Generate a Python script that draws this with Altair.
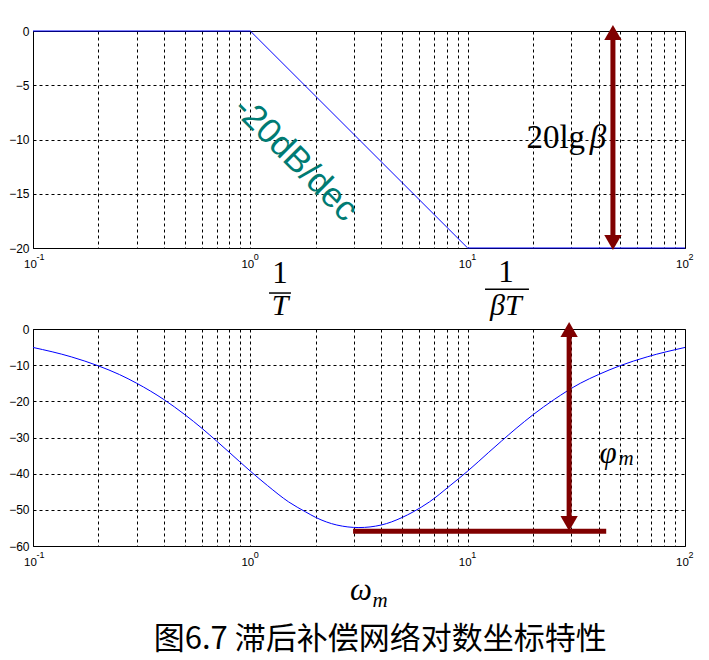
import altair as alt
import pandas as pd

# ---- data ----
freq_mag = [0.1, 1, 10, 100]
mag_db = [0, 0, -20, -20]

freq_phase = [0.1, 0.15, 0.2, 0.25, 0.3, 0.4, 0.5, 0.6, 0.7, 0.8, 1.0, 1.2, 1.5, 1.8, 2.0, 2.5,
              3.16, 4.0, 5.0, 5.6, 6.67, 8.3, 10, 12.5, 14.3, 16.7, 20, 25, 33, 40, 50, 67, 100]
phase_deg = [-5.1, -7.7, -10.2, -12.6, -15.0, -19.5, -23.7, -27.5, -31.0, -34.1, -39.3, -43.3, -47.8,
             -50.6, -52.1, -54.2, -54.9, -54.2, -52.1, -50.6, -47.8, -43.3, -39.3, -34.1, -31.0,
             -27.5, -23.7, -19.5, -15.0, -12.6, -10.2, -7.7, -5.1]

x_grid = [m * 10.0 ** e for e in (-1, 0, 1) for m in range(1, 10)] + [100]
decades = [0.1, 1, 10, 100]
decade_exp = ["-1", "0", "1", "2"]
top_ticks = [0, -5, -10, -15, -20]
bottom_ticks = [0, -10, -20, -30, -40, -50, -60]

DARK_RED = "#800000"
SANS = "Liberation Sans"
SERIF = "Liberation Serif"
W, H = 652, 217

label_expr = "indexof([0.1, 1, 10, 100], datum.value) >= 0 ? '10' : ''"

xscale = alt.Scale(type="log", domain=[0.1, 100], nice=False)
ys_top = alt.Scale(domain=[-20, 0], nice=False)
ys_bot = alt.Scale(domain=[-60, 0], nice=False)


def x_axis():
    return alt.Axis(values=x_grid, labelExpr=label_expr, grid=True, gridDash=[3, 3],
                    gridColor="black", gridOpacity=1, gridWidth=1, ticks=False, domain=False,
                    labelFontSize=11.5, labelPadding=10, labelFont=SANS, labelOffset=-3,
                    labelColor="black", labelOverlap=False, labelFlush=False, title=None)


def y_axis(vals):
    return alt.Axis(values=vals, grid=True, gridDash=[3, 3], gridColor="black", gridOpacity=1,
                    gridWidth=1, ticks=False, domain=False, labelFontSize=12, labelPadding=4,
                    labelFont=SANS, labelColor="black", labelOverlap=False, title=None,
                    minExtent=24, maxExtent=24)


PANELS = {"top": (ys_top, top_ticks), "bot": (ys_bot, bottom_ticks)}


def X(field):
    return alt.X(field, type="quantitative", scale=xscale, axis=x_axis())


def Y(field, panel):
    sc, ticks = PANELS[panel]
    return alt.Y(field, type="quantitative", scale=sc, axis=y_axis(ticks))


def exponents(ymin, panel):
    df = pd.DataFrame({"w": decades, "e": decade_exp, "y": [ymin] * len(decades)})
    return alt.Chart(df).mark_text(font=SANS, fontSize=9, align="left", baseline="middle",
                                   dx=3.5, dy=9, color="black", clip=False).encode(
        x=X("w"), y=Y("y", panel), text="e:N")


def txt(text, x, y, size, panel, font=SERIF, style="normal", align="center",
        color="black", angle=0, baseline="alphabetic"):
    df = pd.DataFrame({"t": [text], "x": [x], "y": [y]})
    return alt.Chart(df).mark_text(fontSize=size, font=font, fontStyle=style, align=align,
                                   baseline=baseline, color=color, angle=angle,
                                   clip=False).encode(
        x=X("x"), y=Y("y", panel), text="t:N")


def hrule(x1, x2, y, panel, width=1.5, color="black"):
    df = pd.DataFrame({"x": [x1], "x2": [x2], "y": [y]})
    return alt.Chart(df).mark_rule(strokeWidth=width, color=color, clip=False).encode(
        x=X("x"), x2="x2", y=Y("y", panel))


def varrow(x, y_top, y_bot, panel, shaft_top, shaft_bot):
    shaft = alt.Chart(pd.DataFrame({"x": [x], "y": [shaft_top], "y2": [shaft_bot]})).mark_rule(
        strokeWidth=5, color=DARK_RED, clip=False).encode(
        x=X("x"), y=Y("y", panel), y2="y2")
    up = alt.Chart(pd.DataFrame({"x": [x], "y": [y_top]})).mark_point(
        shape="triangle-up", filled=True, size=300, color=DARK_RED, opacity=1, clip=False).encode(
        x=X("x"), y=Y("y", panel))
    down = alt.Chart(pd.DataFrame({"x": [x], "y": [y_bot]})).mark_point(
        shape="triangle-down", filled=True, size=300, color=DARK_RED, opacity=1, clip=False).encode(
        x=X("x"), y=Y("y", panel))
    return shaft + up + down


# ---- top panel ----
mag_df = pd.DataFrame({"w": freq_mag, "db": mag_db})
mag_line = alt.Chart(mag_df).mark_line(color="#0000ff", strokeWidth=1).encode(
    x=X("w"), y=Y("db", "top"))

top = alt.layer(
    mag_line,
    exponents(-20, "top"),
    txt("-20dB/dec", 1.62, -11.8, 35, "top", font=SANS, color="#007b73",
        angle=45, baseline="middle"),
    txt("20lg", 34.7, -10.8, 33, "top", align="right"),
    txt("β", 36.5, -10.8, 33, "top", style="italic", align="left"),
    varrow(46.6, -0.14, -19.5, "top", -0.3, -19.4),
    txt("1", 1.37, -23.2, 31, "top"),
    hrule(1.219, 1.538, -24.15, "top"),
    txt("T", 1.37, -26.2, 30, "top", style="italic"),
    txt("1", 15.0, -23.1, 31, "top"),
    hrule(12.02, 19.14, -23.8, "top"),
    txt("βT", 15.0, -26.2, 30, "top", style="italic"),
).properties(width=W, height=H)

# ---- bottom panel ----
ph_df = pd.DataFrame({"w": freq_phase, "deg": phase_deg})
ph_line = alt.Chart(ph_df).mark_line(color="#0000ff", strokeWidth=1, interpolate="monotone").encode(
    x=X("w"), y=Y("deg", "bot"))

bottom = alt.layer(
    ph_line,
    exponents(-60, "bot"),
    hrule(2.97, 43.4, -55.9, "bot", width=5, color=DARK_RED),
    varrow(29.3, -0.14, -53.8, "bot", -0.5, -53.5),
    txt("φ", 44.3, -37.0, 31, "bot", style="italic"),
    txt("m", 53.6, -37.6, 21, "bot", style="italic"),
    txt("ω", 3.23, -75.0, 31, "bot", style="italic"),
    txt("m", 3.95, -76.9, 21, "bot", style="italic"),
    txt("图6.7 滞后补偿网络对数坐标特性", 3.96, -88.6, 31, "bot", font="Noto Sans CJK SC"),
).properties(width=W, height=H)

chart = alt.vconcat(top, bottom, spacing=81, bounds="flush").properties(
    padding={"left": 0, "top": 16, "right": 5, "bottom": 5}
).configure_view(stroke="black", strokeWidth=1)

chart.save("out.html", embed_options={"renderer": "svg", "actions": False})
